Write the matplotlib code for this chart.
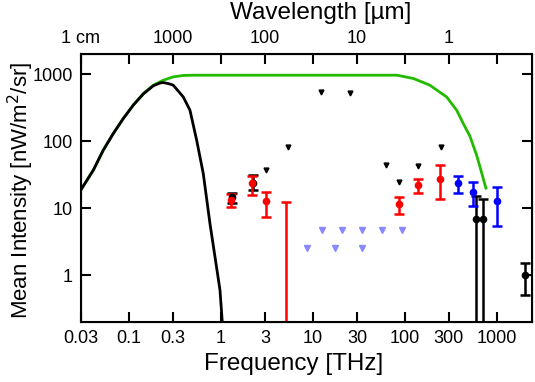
import numpy as np
import matplotlib.pyplot as plt

plt.rcParams['font.family'] = ['Liberation Sans', 'DejaVu Sans']

# CMB-like black curve (frequency THz, nW/m^2/sr)
cmb_f = [0.03, 0.0408, 0.0524, 0.0673, 0.0865, 0.111, 0.143, 0.183, 0.215, 0.235,
         0.27, 0.302, 0.388, 0.459, 0.543, 0.640, 0.757, 0.859, 0.973, 1.03]
cmb_i = [18.9, 36.9, 73.5, 130, 218, 345, 508, 670, 735, 751,
         721, 685, 458, 290, 103, 33, 5.9, 1.87, 0.60, 0.2]

# green envelope curve
env_f = [0.03, 0.0408, 0.0524, 0.0673, 0.0865, 0.111, 0.143, 0.183, 0.235, 0.302,
         0.388, 0.499, 1.0, 10, 81.7, 123, 186, 283, 364, 429, 507, 600, 668, 757]
env_i = [18.9, 36.9, 73.5, 130, 218, 345, 515, 685, 813, 912,
         957, 966, 966, 966, 966, 863, 685, 458, 290, 184, 119, 61.8, 36.9, 19.9]

# red measurements
red_f = [1.27, 2.18, 3.08, 5.07, 86.5, 139, 239]
red_v = [13.2, 23.4, 12.7, 0.1, 11.5, 22.0, 27.7]
red_lo = [10.4, 15.6, 7.4, 0.01, 8.3, 16.6, 13.5]
red_hi = [16.4, 30.0, 17.5, 12.2, 14.8, 27.7, 43.8]

# blue measurements
blue_f = [379, 551, 995]
blue_v = [23.4, 17.5, 12.9]
blue_lo = [16.6, 10.7, 5.45]
blue_hi = [30.3, 24.7, 20.4]

# black measurements
blk_f = [1.33, 2.25, 589, 696, 2010]
blk_v = [14.5, 24.0, 6.86, 6.86, 1.0]
blk_lo = [12.0, 18.6, 0.01, 0.01, 0.50]
blk_hi = [17.0, 31.0, 15.3, 13.6, 1.50]

# black upper limits
lim_f = [3.08, 5.33, 12.1, 25.2, 62, 86.5, 139, 245]
lim_v = [37, 81, 545, 515, 43.8, 24.7, 42.4, 80.5]

# lavender upper limits
lav_f = [12.5, 20.6, 34, 56, 92.5, 8.6, 17.3, 34]
lav_v = [4.78, 4.78, 4.78, 4.78, 4.78, 2.57, 2.57, 2.57]

fig = plt.figure(figsize=(5.35, 3.82), dpi=100)
ax = fig.add_axes([0.1514, 0.157, 0.8430, 0.7016])

ax.plot(env_f, env_i, color='#22bb00', lw=2)
ax.plot(cmb_f, cmb_i, color='black', lw=2)


def err(v, lo, hi):
    v = np.array(v)
    return [v - np.array(lo), np.array(hi) - v]


ax.errorbar(blk_f, blk_v, yerr=err(blk_v, blk_lo, blk_hi), fmt='o', color='black',
            ms=4.5, elinewidth=1.8, capsize=3.5, capthick=1.8)
ax.errorbar(red_f, red_v, yerr=err(red_v, red_lo, red_hi), fmt='o', color='#ff0000',
            ms=4.5, elinewidth=1.8, capsize=3.5, capthick=1.8)
ax.errorbar(blue_f, blue_v, yerr=err(blue_v, blue_lo, blue_hi), fmt='o', color='#0000ff',
            ms=4.5, elinewidth=1.8, capsize=3.5, capthick=1.8)
ax.plot(lim_f, lim_v, 'v', color='black', ms=3.5)
ax.plot(lav_f, lav_v, 'v', color='#8888ff', ms=4)

ax.set_xscale('log')
ax.set_yscale('log')
ax.set_xlim(0.03, 2400)
ax.set_ylim(0.2, 2000)

xt = [0.03, 0.1, 0.3, 1, 3, 10, 30, 100, 300, 1000]
ax.set_xticks(xt)
ax.set_xticklabels(['0.03', '0.1', '0.3', '1', '3', '10', '30', '100', '300', '1000'])
ax.set_yticks([1, 10, 100, 1000])
ax.set_yticklabels(['1', '10', '100', '1000'])
ax.minorticks_off()
ax.tick_params(direction='in', length=7, width=1.5, labelsize=13, pad=6,
               top=False, right=True)
for s in ax.spines.values():
    s.set_linewidth(1.5)

ax.set_xlabel('Frequency [THz]', fontsize=17.5, labelpad=1)
ax.xaxis.set_label_coords(0.472, -0.115)
ax.set_ylabel('Mean Intensity [nW/m$^2$/sr]', fontsize=16)
ax.yaxis.set_label_coords(-0.10, 0.49)

top = ax.twiny()
top.set_xscale('log')
top.set_xlim(ax.get_xlim())
top.set_xticks(xt)
top.set_xticklabels(['1 cm', '', '1000', '', '100', '', '10', '', '1', ''])
top.minorticks_off()
top.tick_params(direction='in', length=7, width=1.5, labelsize=13, pad=5)
top.set_xlabel('Wavelength [µm]', fontsize=17.5, labelpad=3)
top.xaxis.set_label_coords(0.532, 1.13)

fig.savefig('out.png', dpi=100)
